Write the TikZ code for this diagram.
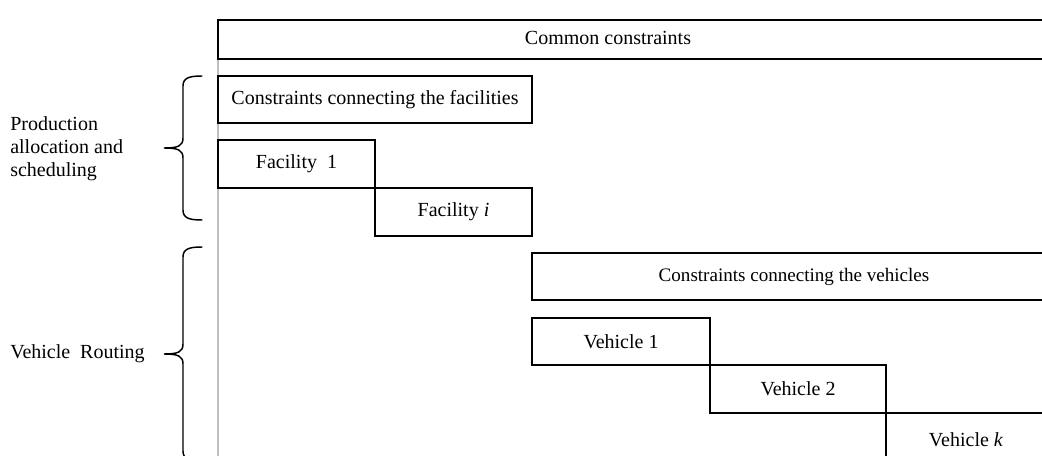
\documentclass[tikz,border=0pt]{standalone}
\usepackage{fontspec}
\setmainfont{Liberation Serif}
\usetikzlibrary{fit}
% curly brace opening to the right: top y, tip y, bottom y
\newcommand\sidebrace[3]{%
  \draw[bracepath] (202,#1) .. controls (189,#1) and (183,#1+2) .. (183,#1+10)
    -- (183,#2-10) .. controls (183,#2-2) and (178,#2) .. (164,#2)
    .. controls (178,#2) and (183,#2+2) .. (183,#2+10)
    -- (183,#3-10) .. controls (183,#3-2) and (189,#3) .. (202,#3);}
\begin{document}
\begin{tikzpicture}[x=0.75pt,y=-0.75pt,
  block/.style={draw=black, line width=1.5pt, inner sep=0pt},
  lbl/.style={font=\fontsize{15}{17.3}\selectfont, inner sep=0pt},
  small/.style={font=\fontsize{14.3}{17}\selectfont, inner sep=0pt},
  bracepath/.style={line width=1.1pt, line cap=round}]
\clip (0,0) rectangle (1042,456);
\fill[white] (0,0) rectangle (1042,456);

% thin guide line on the left of the block staircase
\draw[gray!50, line width=0.8pt] (218,59) -- (218,460);

% blocks
\node[block, fit={(218,20)(1060,59)}] (common) {};
\node[block, fit={(218,76)(532,123)}] (facconn) {};
\node[block, fit={(218,140)(375,188)}] (fac1) {};
\node[block, fit={(375,188)(532,236)}] (faci) {};
\node[block, fit={(532,253)(1056,300)}] (vehconn) {};
\node[block, fit={(532,318)(710,365)}] (veh1) {};
\node[block, fit={(710,365)(886,413)}] (veh2) {};
\node[block, fit={(886,413)(1047,466)}] (vehk) {};

% block labels
\node[lbl] (tcommon) at (608,38) {Common constraints};
\node[lbl] (tfacconn) at (facconn.center) {Constraints connecting the facilities};
\node[lbl] (tfac1) at (fac1.center) {Facility\ \ 1};
\node[lbl] (tfaci) at (faci.center) {Facility \textit{i}};
\node[small] (tvehconn) at (vehconn.center) {Constraints connecting the vehicles};
\node[lbl] (tveh1) at (veh1.center) {Vehicle 1};
\node[lbl] (tveh2) at (veh2.center) {Vehicle 2};
\node[lbl] (tvehk) at (966,440) {Vehicle \textit{k}};

% group braces and their labels
\sidebrace{76}{148}{220}
\sidebrace{247}{354}{461}
\node[lbl, anchor=west, align=left] (prod) at (10,149) {Production\\allocation and\\scheduling};
\node[lbl, anchor=west] (routing) at (10,354) {Vehicle\ \ Routing};
\end{tikzpicture}
\end{document}
